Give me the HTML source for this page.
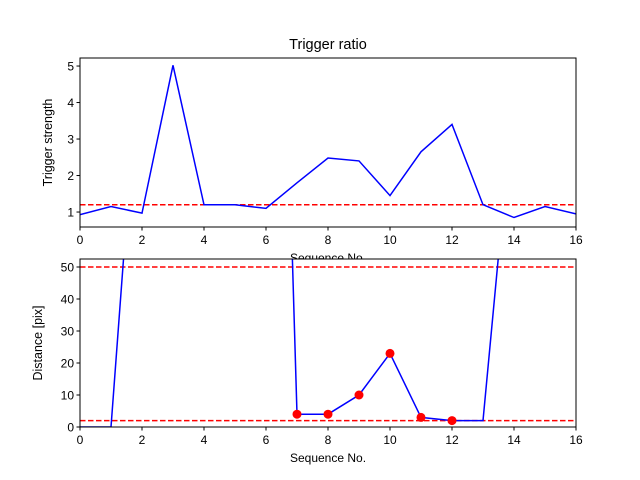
<!DOCTYPE html>
<html><head><meta charset="utf-8"><style>body{margin:0;background:#fff}svg{display:block;font-family:"Liberation Sans","DejaVu Sans",sans-serif}</style></head>
<body>
<svg id="c" width="640" height="480"></svg>
<script>
const xTicks=[0,2,4,6,8,10,12,14,16];
const topY=[1,2,3,4,5];
const botY=[0,10,20,30,40,50];
const seqTop=[0,1,2,3,4,5,6,7,8,9,10,11,12,13,14,15,16];
const strength=[0.93,1.15,0.97,5.02,1.2,1.2,1.1,1.8,2.48,2.4,1.45,2.65,3.4,1.2,0.85,1.15,0.95];
const seqBot=[0,1,2,3,4,5,6,7,8,9,10,11,12,13,14,15,16];
const distance=[0,0,130,130,130,130,330,4,4,10,23,3,2,2,105,105,105];
const dotSeq=[7,8,9,10,11,12];
const dotVal=[4,4,10,23,3,2];
const topThresh=[1.2];
const botThresh=[50,2];
const NS="http://www.w3.org/2000/svg";
const svg=document.getElementById('c');
function mk(t,a,p){const e=document.createElementNS(NS,t);for(const k in a)e.setAttribute(k,a[k]);(p||svg).appendChild(e);return e;}
function panel(id,L,R,T,B,ymin,ymax,yt,ylabel,title,ylOff){
 const sx=v=>L+(v-0)/16*(R-L), sy=v=>B-(v-ymin)/(ymax-ymin)*(B-T);
 const g=mk('g',{});
 mk('rect',{x:L,y:T,width:R-L,height:B-T,fill:'#fff'},g);
 const cp=mk('clipPath',{id:id+'clip'},g);mk('rect',{x:L,y:T,width:R-L,height:B-T},cp);
 const pg=mk('g',{'clip-path':'url(#'+id+'clip)'},g);
 xTicks.forEach(t=>{mk('line',{x1:sx(t),x2:sx(t),y1:B,y2:B+3.5,stroke:'#000'},g);
  const tx=mk('text',{x:sx(t),y:B+17,'font-size':12,'text-anchor':'middle'},g);tx.textContent=t;
  });
 yt.forEach(t=>{mk('line',{x1:L-3.5,x2:L,y1:sy(t),y2:sy(t),stroke:'#000'},g);
  const tx=mk('text',{x:L-6,y:sy(t)+4.5,'font-size':12,'text-anchor':'end'},g);tx.textContent=t;
  });
 const xl=mk('text',{x:(L+R)/2,y:B+35,'font-size':12,'text-anchor':'middle'},g);xl.textContent='Sequence No.';
 
 const yl=mk('text',{x:0,y:0,'font-size':12.5,'text-anchor':'middle',transform:`translate(${L-ylOff},${(T+B)/2}) rotate(-90)`},g);yl.textContent=ylabel;
 
 if(title){const tt=mk('text',{x:(L+R)/2,y:T-9,'font-size':14.5,'text-anchor':'middle'},g);tt.textContent=title;
  }
 return {sx,sy,pg,g,L,R,T,B};
}
function frame(p){const r=mk('rect',{x:p.L,y:p.T,width:p.R-p.L,height:p.B-p.T,fill:'none',stroke:'#000','stroke-width':1},p.g);}
const A=panel('top',80,576,58,227,0.59,5.22,topY,'Trigger strength','Trigger ratio',28);
topThresh.forEach(v=>{const l=mk('line',{x1:80,x2:576,y1:A.sy(v),y2:A.sy(v),stroke:'#f00','stroke-width':1.5,'stroke-dasharray':'5.5,2.5'},A.pg);});
const l1=mk('polyline',{points:seqTop.map((s,i)=>A.sx(s)+','+A.sy(strength[i])).join(' '),fill:'none',stroke:'#00f','stroke-width':1.5},A.pg);

frame(A);
const Bp=panel('bottom',80,576,259,427,0,52.5,botY,'Distance [pix]',null,38);
botThresh.forEach(v=>{const l=mk('line',{x1:80,x2:576,y1:Bp.sy(v),y2:Bp.sy(v),stroke:'#f00','stroke-width':1.5,'stroke-dasharray':'5.5,2.5'},Bp.pg);});
const l2=mk('polyline',{points:seqBot.map((s,i)=>Bp.sx(s)+','+Bp.sy(distance[i])).join(' '),fill:'none',stroke:'#00f','stroke-width':1.5},Bp.pg);

dotSeq.forEach((s,i)=>{const c=mk('circle',{cx:Bp.sx(s),cy:Bp.sy(dotVal[i]),r:4.5,fill:'#f00'},Bp.pg);});
frame(Bp);
</script>
</body></html>
